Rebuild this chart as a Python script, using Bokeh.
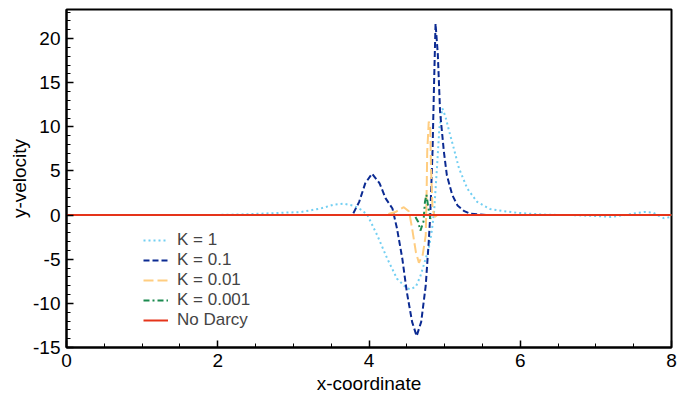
from bokeh.plotting import figure
from bokeh.models import Range1d, Legend, LegendItem, SingleIntervalTicker, PrintfTickFormatter
from bokeh.embed import file_html
from bokeh.resources import INLINE

# ---- data ----
k1_x = [0.0, 1.0, 2.0, 2.4, 2.8, 3.1, 3.36, 3.54, 3.67, 3.8, 3.91, 3.98, 4.11, 4.24, 4.37, 4.5, 4.55,
        4.62, 4.68, 4.74, 4.79, 4.83, 4.86, 4.9, 4.93, 4.97, 5.01, 5.06, 5.12, 5.19, 5.3, 5.43, 5.6,
        5.78, 5.96, 6.15, 6.36, 6.7, 7.0, 7.2, 7.38, 7.52, 7.64, 7.75, 7.84, 7.9, 8.0]
k1_y = [0.0, 0.0, 0.02, 0.1, 0.25, 0.35, 0.75, 1.2, 1.3, 1.05, 0.55, 0.0, -2.3, -4.9, -7.2, -8.3, -8.4,
        -8.1, -6.9, -5.2, -3.8, -1.8, 0.3, 5.5, 9.8, 12.1, 11.2, 9.5, 7.6, 5.3, 3.0, 1.5, 0.7,
        0.45, 0.27, 0.15, 0.04, 0.0, -0.1, -0.2, 0.0, 0.2, 0.35, 0.3, -0.1, -0.35, -0.2]

k01_x = [0.0, 3.5, 3.78, 3.87, 3.95, 4.04, 4.14, 4.22, 4.31, 4.37, 4.44, 4.5, 4.57, 4.63, 4.69, 4.75,
         4.79, 4.81, 4.84, 4.86, 4.88, 4.91, 4.94, 4.99, 5.03, 5.1, 5.17, 5.26, 5.34, 5.55, 6.5, 8.0]
k01_y = [0.0, 0.0, 0.0, 1.5, 3.6, 4.7, 3.6, 1.9, 0.75, -1.5, -4.9, -8.7, -12.1, -13.7, -12.1, -8.0,
         -3.0, 0.0, 7.2, 14.8, 21.7, 18.2, 11.7, 7.2, 4.5, 2.3, 1.1, 0.45, 0.15, 0.0, 0.0, 0.0]

k001_x = [0.0, 4.2, 4.35, 4.46, 4.53, 4.57, 4.62, 4.66, 4.71, 4.75, 4.76, 4.77, 4.79, 4.81, 4.82,
          4.84, 4.87, 4.9, 8.0]
k001_y = [0.0, 0.0, 0.35, 0.9, 0.4, -1.5, -4.2, -5.4, -4.5, -2.3, 1.5, 7.2, 10.6, 9.8, 5.3,
          0.75, -0.2, 0.0, 0.0]

k0001_x = [0.0, 4.6, 4.65, 4.68, 4.72, 4.74, 4.76, 4.78, 4.81, 4.84, 8.0]
k0001_y = [0.0, 0.0, -0.75, -1.75, -0.75, 1.5, 2.3, 1.1, -0.4, 0.0, 0.0]

nod_x = [0.0, 2.0, 4.0, 6.0, 8.0]
nod_y = [0.0, 0.0, 0.0, 0.0, 0.0]

labels = ["K = 1", "K = 0.1", "K = 0.01", "K = 0.001", "No Darcy"]

FONT = "Liberation Sans"

p = figure(width=677, height=400, output_backend="svg", toolbar_location=None,
           x_range=Range1d(0, 8), y_range=Range1d(-15, 23.3),
           min_border_left=66, min_border_top=9, min_border_right=6, min_border_bottom=53)
p.grid.visible = False
p.outline_line_color = "black"
p.outline_line_width = 2
p.background_fill_color = "white"

r1 = p.line(k1_x, k1_y, line_color="#72cff2", line_width=2, line_dash="2 3")
r2 = p.line(k01_x, k01_y, line_color="#0b2a92", line_width=2, line_dash="6 3")
r3 = p.line(k001_x, k001_y, line_color="#ffcd80", line_width=2, line_dash="10 4")
r4 = p.line(k0001_x, k0001_y, line_color="#1b8a4f", line_width=2, line_dash="6 3 2 3")
r5 = p.line(nod_x, nod_y, line_color="#e5341a", line_width=2)

for ax in (p.xaxis[0], p.yaxis[0]):
    ax.axis_line_width = 2
    ax.axis_line_color = "black"
    ax.major_tick_in = 7
    ax.major_tick_out = 0
    ax.minor_tick_in = 4
    ax.minor_tick_out = 0
    ax.major_tick_line_width = 1.5
    ax.minor_tick_line_width = 1
    ax.major_label_text_font = FONT
    ax.major_label_text_font_size = "19px"
    ax.major_label_text_color = "black"
    ax.axis_label_text_font = FONT
    ax.axis_label_text_font_size = "19px"
    ax.axis_label_text_font_style = "normal"
    ax.axis_label_text_color = "black"
    ax.formatter = PrintfTickFormatter(format="%d")

p.xaxis.major_label_standoff = 6
p.xaxis.axis_label_standoff = 3
p.yaxis.major_label_standoff = 6
p.yaxis.axis_label_standoff = 0

p.xaxis.ticker = SingleIntervalTicker(interval=2, num_minor_ticks=4)
p.yaxis.ticker = SingleIntervalTicker(interval=5, num_minor_ticks=5)
p.xaxis.axis_label = "x-coordinate"
p.yaxis.axis_label = "y-velocity"

# one single-row legend per entry, placed row by row like the reference
row_offsets = [97, 77, 57, 37, 17]
for lab, r, off in zip(labels, [r1, r2, r3, r4, r5], row_offsets):
    lg = Legend(items=[LegendItem(label=lab, renderers=[r])],
                location=(77, off), border_line_color=None, background_fill_alpha=0,
                padding=0, margin=0, spacing=0, glyph_width=25, glyph_height=16,
                label_height=16, label_standoff=9,
                label_text_font=FONT, label_text_font_size="17px")
    p.add_layout(lg, "center")

open("out.html", "w").write(file_html(p, INLINE))
